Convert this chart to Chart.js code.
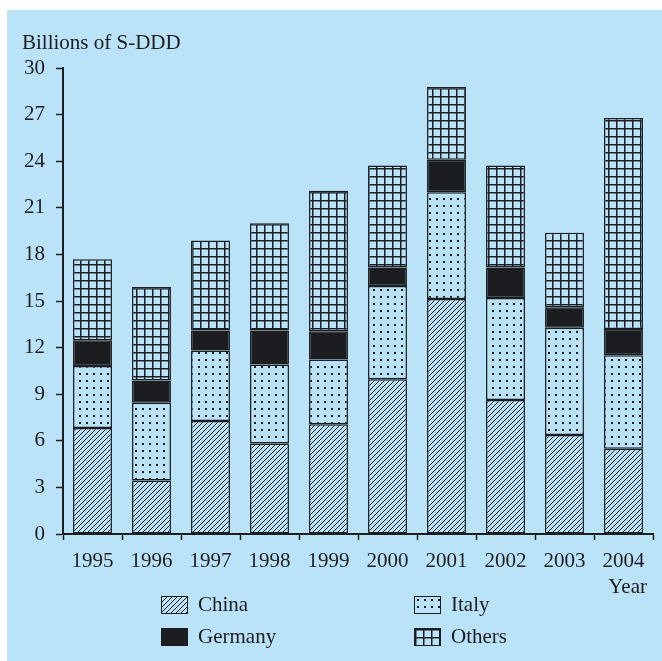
<!DOCTYPE html>
<html lang="en">
<head>
    <meta charset="UTF-8">
    <title>Billions of S-DDD</title>
    <script src="https://cdn.jsdelivr.net/npm/chart.js"></script>
    <style>
        body {
            margin: 0;
            background: #ffffff;
            font-family: "Liberation Serif", "DejaVu Serif", serif;
        }
        .wrap {
            position: relative;
            width: 662px;
            height: 661px;
        }
        .panel {
            position: absolute;
            left: 7px;
            top: 10px;
            right: 0;
            bottom: 0;
            background: #bbe3f8;
        }
        canvas {
            position: absolute;
            left: 0;
            top: 0;
        }
        .legend-item {
            position: absolute;
            display: flex;
            align-items: center;
            font-size: 21px;
            line-height: 19px;
            color: #1c1d21;
        }
        .swatch {
            width: 27px;
            height: 18px;
            border: 1px solid #1c1d21;
            margin-right: 10px;
            box-sizing: border-box;
        }
    </style>
</head>
<body>
<div class="wrap">
    <div class="panel"></div>
    <canvas id="chart" width="662" height="661"></canvas>
    <div id="legend"></div>
</div>

<script>
// values, billions of S-DDD
const years = ['1995', '1996', '1997', '1998', '1999', '2000', '2001', '2002', '2003', '2004'];
const china   = [6.82, 3.45, 7.27, 5.82, 7.06, 9.96, 15.13, 8.63, 6.37, 5.49];
const italy   = [4.00, 5.00, 4.55, 5.10, 4.18, 6.01, 6.87, 6.57, 6.91, 6.01];
const germany = [1.65, 1.44, 1.28, 2.18, 1.81, 1.18, 2.10, 1.95, 1.32, 1.70];
const others  = [5.21, 6.01, 5.80, 6.90, 9.05, 6.58, 4.68, 6.58, 4.80, 13.58];
const yTicks = [0, 3, 6, 9, 12, 15, 18, 21, 24, 27, 30];

const ink = '#1c1d21';
const blue = '#bbe3f8';
const fontSize = 21;

function makeTile(size, drawFn) {
    const c = document.createElement('canvas');
    c.width = size;
    c.height = size;
    const g = c.getContext('2d');
    g.fillStyle = blue;
    g.fillRect(0, 0, size, size);
    g.strokeStyle = ink;
    g.fillStyle = ink;
    drawFn(g, size);
    return c;
}

const hatchTile = makeTile(5, (g, s) => {
    g.lineWidth = 1;
    g.beginPath();
    g.moveTo(-1, s + 1); g.lineTo(s + 1, -1);
    g.moveTo(-1 - s, s + 1); g.lineTo(1, -1);
    g.moveTo(s - 1, s + 1); g.lineTo(2 * s + 1, -1);
    g.stroke();
});
const dotTile = makeTile(7, (g, s) => {
    g.fillRect(2, 2, 2, 2);
});
const gridTile = makeTile(8, (g, s) => {
    g.fillRect(0, 0, s, 1.5);
    g.fillRect(0, 0, 1.5, s);
});

const ctx = document.getElementById('chart').getContext('2d');
const pat = tile => ctx.createPattern(tile, 'repeat');

const series = [
    { label: 'China', data: china, fill: pat(hatchTile), tile: hatchTile },
    { label: 'Italy', data: italy, fill: pat(dotTile), tile: dotTile },
    { label: 'Germany', data: germany, fill: ink, tile: null },
    { label: 'Others', data: others, fill: pat(gridTile), tile: gridTile }
];

const extraText = {
    id: 'extraText',
    afterDraw(chart) {
        const c = chart.ctx;
        c.save();
        c.fillStyle = ink;
        c.font = fontSize + 'px "Liberation Serif"';
        c.textBaseline = 'middle';
        c.textAlign = 'left';
        c.fillText('Billions of S-DDD', 22, 43);
        c.textAlign = 'right';
        c.fillText('Year', 647, 587);
        c.restore();
    }
};

new Chart(ctx, {
    type: 'bar',
    data: {
        labels: years,
        datasets: series.map(s => ({
            label: s.label,
            data: s.data,
            backgroundColor: s.fill,
            borderColor: ink,
            borderWidth: 1.5,
            borderSkipped: false,
            categoryPercentage: 1,
            barPercentage: 0.66
        }))
    },
    options: {
        responsive: false,
        animation: false,
        layout: { padding: { top: 68, right: 9, left: 0, bottom: 0 } },
        plugins: {
            legend: { display: false },
            tooltip: { enabled: false }
        },
        scales: {
            x: {
                stacked: true,
                afterFit: scale => { scale.height = 127; },
                grid: {
                    offset: true,
                    drawOnChartArea: false,
                    drawTicks: true,
                    tickLength: 6,
                    tickWidth: 1.5,
                    tickColor: ink
                },
                border: { display: true, color: ink, width: 2 },
                ticks: {
                    color: ink,
                    padding: 9,
                    font: { family: 'Liberation Serif', size: fontSize }
                }
            },
            y: {
                stacked: true,
                min: 0,
                max: 30,
                afterFit: scale => { scale.width = 63; },
                afterBuildTicks: scale => { scale.ticks = yTicks.map(v => ({ value: v })); },
                grid: {
                    drawOnChartArea: false,
                    drawTicks: true,
                    tickLength: 7,
                    tickWidth: 1.5,
                    tickColor: ink
                },
                border: { display: true, color: ink, width: 2 },
                ticks: {
                    color: ink,
                    padding: 11,
                    font: { family: 'Liberation Serif', size: fontSize }
                }
            }
        }
    },
    plugins: [extraText]
});

// legend in two columns: China / Italy, Germany / Others
const legendPos = [
    { left: 161, top: 595 },
    { left: 414, top: 595 },
    { left: 161, top: 627 },
    { left: 414, top: 627 }
];
const legendOrder = ['China', 'Italy', 'Germany', 'Others'];
const legend = document.getElementById('legend');
legendOrder.forEach((name, i) => {
    const s = series.find(d => d.label === name);
    const item = document.createElement('div');
    item.className = 'legend-item';
    item.style.left = legendPos[i].left + 'px';
    item.style.top = legendPos[i].top + 'px';
    const sw = document.createElement('div');
    sw.className = 'swatch';
    if (s.tile) {
        sw.style.backgroundImage = 'url(' + s.tile.toDataURL() + ')';
    } else {
        sw.style.background = ink;
    }
    const txt = document.createElement('span');
    txt.textContent = name;
    item.appendChild(sw);
    item.appendChild(txt);
    legend.appendChild(item);
});
</script>
</body>
</html>
